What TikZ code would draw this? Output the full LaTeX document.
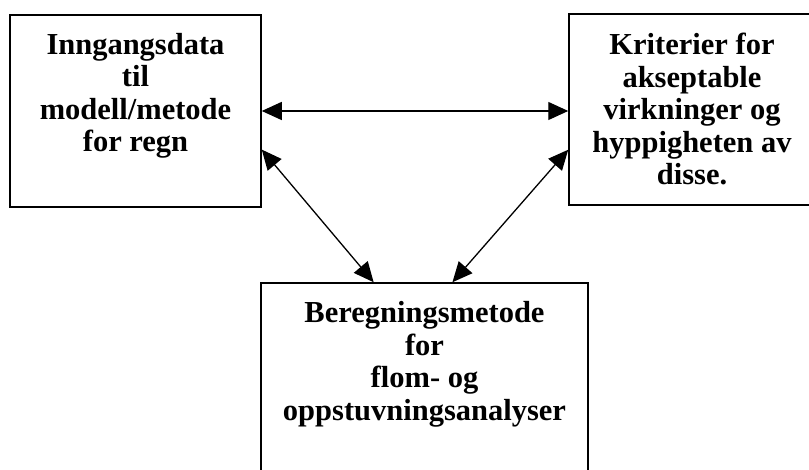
\documentclass[tikz,border=0pt]{standalone}
\usepackage{fontspec}
\setmainfont{Liberation Serif}
\usetikzlibrary{arrows.meta}

\begin{document}
\begin{tikzpicture}[x=1pt, y=1pt, line width=1.5pt,
    box/.style = {draw, rectangle, align=center, inner sep=0pt, text depth=10pt,
      font=\fontsize{30.5}{32.5}\selectfont\bfseries},
    link/.style = {{Triangle[length=20pt,width=18pt]}-{Triangle[length=20pt,width=18pt]}, line width=1.3pt}]
\useasboundingbox (0,0) rectangle (809,470);
\clip (0,0) rectangle (809,470);
\node[box, minimum width=251pt, minimum height=192pt, text height=92pt] (inn) at (135.5,359)
  {Inngangsdata\\til\\modell/metode\\for regn};
\node[box, minimum width=246pt, minimum height=191pt, text height=161pt] (krit) at (692,360.5)
  {Kriterier for\\akseptable\\virkninger og\\hyppigheten av\\disse.};
\node[box, minimum width=327pt, minimum height=207pt, text height=78pt] (beregn) at (424.5,83.5)
  {Beregningsmetode\\for\\flom- og\\oppstuvningsanalyser};
\draw[link] (inn.east) -- (inn.east -| krit.west);
\draw[link] (inn.-17) -- (beregn.116);
\draw[link] (krit.198) -- (beregn.75);
\end{tikzpicture}
\end{document}
